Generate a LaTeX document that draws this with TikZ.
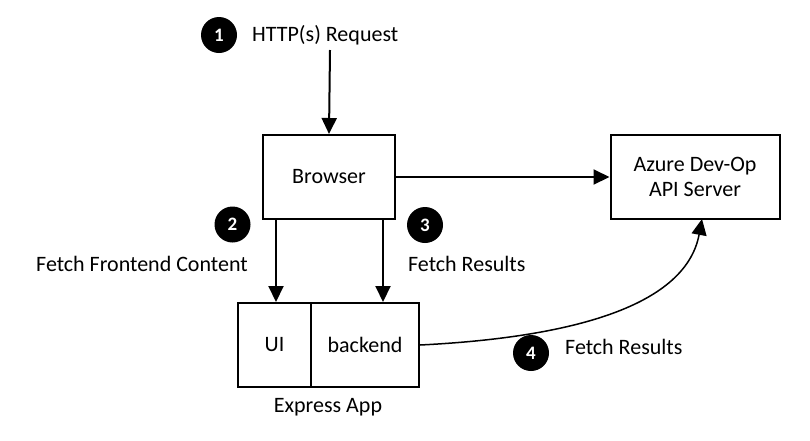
\documentclass[tikz,border=0pt]{standalone}
\usepackage{fontspec}
\setmainfont{Carlito}
\usetikzlibrary{arrows.meta}
\begin{document}
\begin{tikzpicture}[x=1pt,y=-1pt,
  every node/.style={font=\fontsize{22}{25.5}\selectfont},
  box/.style={draw,line width=2pt,inner sep=0pt},
  num/.style={circle,fill=black,text=white,minimum size=36pt,inner sep=0pt,font=\fontsize{19}{22}\selectfont\bfseries},
  lbl/.style={inner sep=0pt},
  arr/.style={line width=2pt,-{Triangle[length=16pt,width=15pt]}}]
\useasboundingbox (0,0) rectangle (810,440);
% nodes
\node[box,minimum width=132pt,minimum height=84pt] (browser) at (329,177) {Browser};
\node[box,minimum width=169pt,minimum height=84pt,align=center] (azure) at (695,177) {Azure Dev-Op\\API Server};
\node[box,minimum width=73pt,minimum height=84pt] (ui) at (274.5,345) {UI};
\node[box,minimum width=108pt,minimum height=84pt] (backend) at (365,345) {backend};
\node[lbl] (express) at (328,407) {Express App};
% numbers
\node[num] (n1) at (219,35) {1};
\node[lbl,anchor=west] (t1) at (252,35) {HTTP(s) Request};
\coordinate (req) at (330,50);
\node[num] (n2) at (232.5,224.5) {2};
\node[lbl,anchor=east] (t2) at (248,264) {Fetch Frontend Content};
\node[num] (n3) at (425,225) {3};
\node[lbl,anchor=west] (t3) at (408,264) {Fetch Results};
\node[num] (n4) at (531,353) {4};
\node[lbl,anchor=west] (t4) at (565,347) {Fetch Results};
\coordinate (azin) at (702,219);
% connectors
\draw[arr] (req) -- (browser.north);
\draw[arr] (browser.east) -- (azure.west);
\draw[arr] (browser.south -| 276,0) -- (276,0 |- ui.north);
\draw[arr] (browser.south -| 383,0) -- (383,0 |- backend.north);
\draw[line width=1.5pt,-{Triangle[length=16pt,width=15pt]}] (backend.east) .. controls (560,338) and (685,310) .. (azin);
\end{tikzpicture}
\end{document}
